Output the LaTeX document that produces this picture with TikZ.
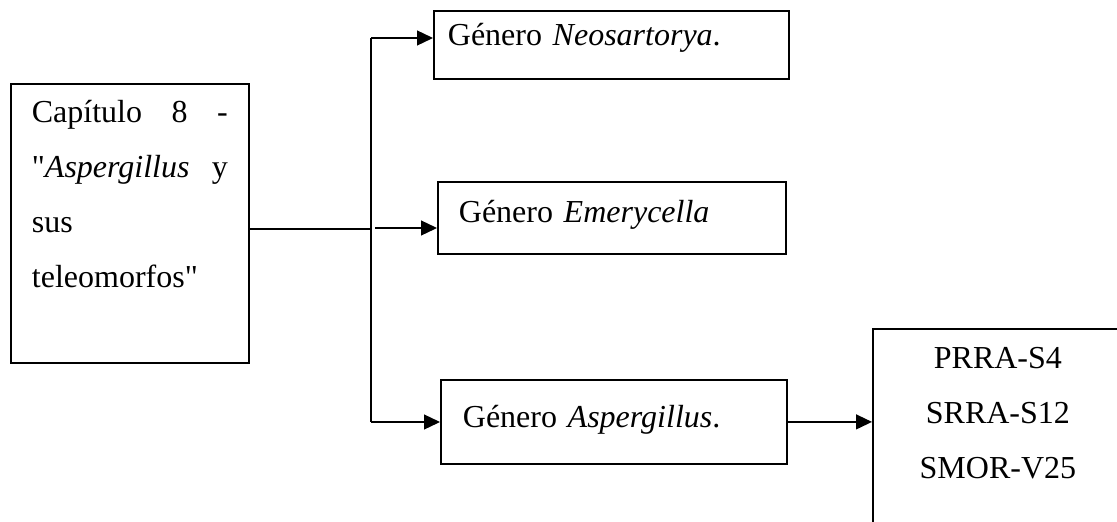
\documentclass[tikz,border=0pt]{standalone}
\usepackage{fontspec}
\setmainfont{Liberation Serif}
\usetikzlibrary{arrows.meta}

% comilla recta, sin pasar por el mapeo tex-text
\newcommand\comilla{\XeTeXglyph\XeTeXcharglyph"22\relax}

\tikzset{
  caja/.style={draw,line width=1.8pt,rectangle,anchor=north west,inner ysep=0pt,
    font=\fontsize{32}{55}\selectfont},
  flecha/.style={line width=1.3pt}
}

\begin{document}
\begin{tikzpicture}[x=1pt,y=-1pt,>={Triangle[length=16pt,width=15pt]}]
\useasboundingbox (0,0) rectangle (1117,522);
\clip (0,0) rectangle (1117,522);

\node[caja,inner xsep=21pt,text width=196pt,align=left,text height=39pt,text depth=240pt] (cap) at (10,83)
  {Capítulo\hfill 8\hfill -\\ \comilla\textit{Aspergillus}\hfill y\\ sus\\ teleomorfos\comilla};
\node[caja,inner xsep=14pt,text width=327pt,align=left,text height=35pt,text depth=33pt] (neo) at (433,10)
  {Género \textit{Neosartorya}.};
\node[caja,inner xsep=21pt,text width=306pt,align=left,text height=41pt,text depth=31pt] (eme) at (437,181)
  {Género \textit{Emerycella}};
\node[caja,inner xsep=22pt,text width=302pt,align=left,text height=48pt,text depth=36pt] (asp) at (440,379)
  {Género \textit{Aspergillus}.};
\node[caja,inner xsep=0pt,text width=250pt,align=center,text height=40pt,text depth=200pt] (cepas) at (872,328)
  {PRRA-S4\\ SRRA-S12\\ SMOR-V25};

% tronco
\coordinate (j) at (371,229);
\coordinate (tneo) at (371,38);
\coordinate (teme) at (375,228);
\coordinate (tasp) at (371,422);

\draw[flecha] (cap.east |- j) -- (j);
\draw[flecha] (tneo) -- (tasp);
\draw[flecha,->] (tneo) -- (tneo -| neo.west);
\draw[flecha,->] (teme) -- (teme -| eme.west);
\draw[flecha,->] (tasp) -- (tasp -| asp.west);
\draw[flecha,->] (asp.east) -- (asp.east -| cepas.west);
\end{tikzpicture}
\end{document}
